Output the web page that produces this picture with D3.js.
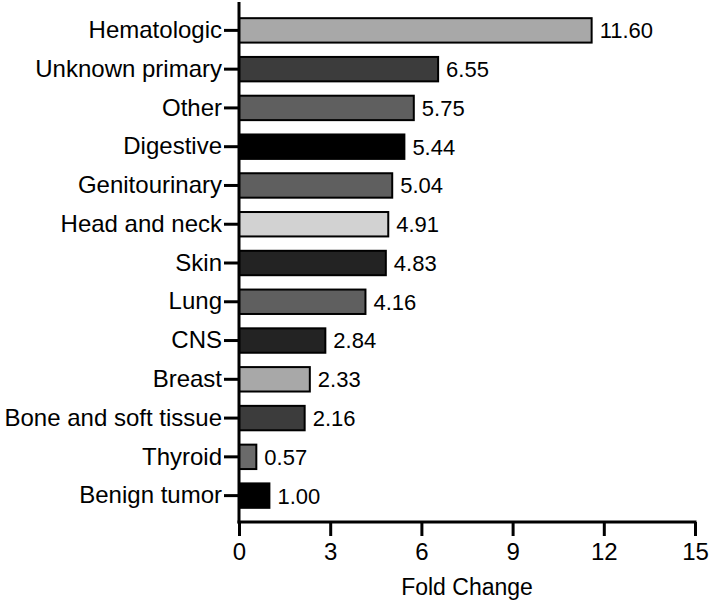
<!DOCTYPE html>
<html>
<head>
<meta charset="utf-8">
<script src="https://cdn.jsdelivr.net/npm/d3@7"></script>
<style>
body { margin: 0; background: #fff; }
text { font-family: "Liberation Sans", Arial, sans-serif; fill: #000; }
</style>
</head>
<body>
<script>
var categories = ["Hematologic", "Unknown primary", "Other", "Digestive", "Genitourinary",
	"Head and neck", "Skin", "Lung", "CNS", "Breast", "Bone and soft tissue", "Thyroid", "Benign tumor"];
var values = [11.60, 6.55, 5.75, 5.44, 5.04, 4.91, 4.83, 4.16, 2.84, 2.33, 2.16, 0.57, 1.00];
var fills = ["#a8a8a8", "#3c3c3c", "#5f5f5f", "#000000", "#5f5f5f", "#d2d2d2", "#232323",
	"#5f5f5f", "#232323", "#a8a8a8", "#3c3c3c", "#6a6a6a", "#000000"];
var xTicks = [0, 3, 6, 9, 12, 15];
var xTitle = "Fold Change";

var width = 709, height = 603;
var margin = {top: 11, right: 14, bottom: 88, left: 239};
var axisY = 522;

var svg = d3.select("body").append("svg")
	.attr("width", width)
	.attr("height", height);

var x = d3.scaleLinear().domain([0, 15]).range([margin.left, 695]);
var y = d3.scaleBand().domain(categories).range([margin.top, 515])
	.paddingInner(0.37).paddingOuter(0.185);

// bars
var data = categories.map(function(c, i){ return {name: c, value: values[i], fill: fills[i]}; });

svg.append("g")
	.selectAll("rect")
	.data(data)
	.enter()
	.append("rect")
	.attr("x", x(0))
	.attr("y", function(d){ return y(d.name); })
	.attr("width", function(d){ return x(d.value) - x(0); })
	.attr("height", y.bandwidth())
	.attr("fill", function(d){ return d.fill; })
	.attr("stroke", "#000")
	.attr("stroke-width", 2);

// value labels
svg.append("g")
	.selectAll("text")
	.data(data)
	.enter()
	.append("text")
	.attr("x", function(d){ return x(d.value) + 8; })
	.attr("y", function(d){ return y(d.name) + y.bandwidth() / 2; })
	.attr("dy", "0.36em")
	.attr("font-size", 22)
	.text(function(d){ return d.value.toFixed(2); });

// y axis
var yAxis = svg.append("g")
	.attr("transform", "translate(" + x(0) + ",0)")
	.call(d3.axisLeft(y).tickSize(15).tickPadding(2));
yAxis.select(".domain").remove();
yAxis.selectAll(".tick line").attr("stroke", "#000").attr("stroke-width", 3);
yAxis.selectAll(".tick text")
	.attr("font-size", 24)
	.attr("font-family", "Liberation Sans, Arial, sans-serif")
	.attr("fill", "#000");
svg.append("line")
	.attr("x1", x(0)).attr("x2", x(0))
	.attr("y1", 2).attr("y2", axisY + 1.5)
	.attr("stroke", "#000").attr("stroke-width", 3);

// x axis
var xAxis = svg.append("g")
	.attr("transform", "translate(0," + axisY + ")")
	.call(d3.axisBottom(x).tickValues(xTicks).tickSize(14).tickPadding(7));
xAxis.select(".domain").remove();
xAxis.selectAll(".tick line").attr("stroke", "#000").attr("stroke-width", 3);
xAxis.selectAll(".tick text")
	.attr("font-size", 24)
	.attr("font-family", "Liberation Sans, Arial, sans-serif")
	.attr("fill", "#000");
svg.append("line")
	.attr("x1", x(0) - 1.5).attr("x2", x(15) + 1.5)
	.attr("y1", axisY).attr("y2", axisY)
	.attr("stroke", "#000").attr("stroke-width", 3);

svg.append("text")
	.attr("x", x(7.5))
	.attr("y", 595)
	.attr("text-anchor", "middle")
	.attr("font-size", 23)
	.text(xTitle);
</script>
</body>
</html>
